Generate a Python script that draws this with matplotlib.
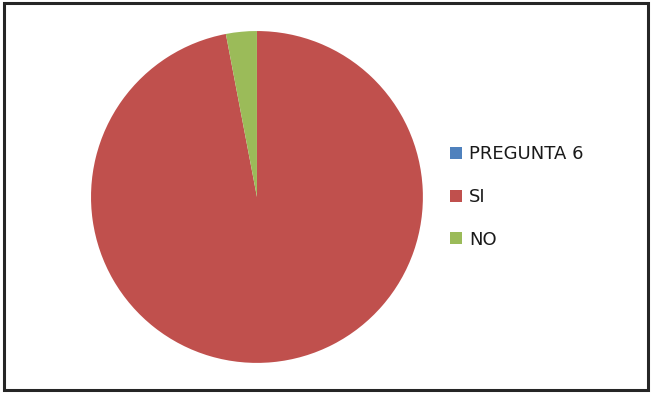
import matplotlib
matplotlib.use("Agg")
import matplotlib.pyplot as plt
from matplotlib.patches import Rectangle

# categories and values (PREGUNTA 6 is the empty series name slot)
labels = ["PREGUNTA 6", "SI", "NO"]
values = [0, 97, 3]
colors = ["#4F81BD", "#C0504D", "#9BBB59"]

plt.rcParams['font.family'] = ['DejaVu Sans']

fig = plt.figure(figsize=(6.52, 3.93), dpi=100)
fig.patch.set_facecolor("white")

# outer frame of the chart area
fig.patches.append(Rectangle((0.0065, 0.008), 0.988, 0.985, transform=fig.transFigure,
                             fill=False, edgecolor="#262626", linewidth=2.2))

# pie axes: centre around (257, 197) px, radius ~166 px
ax = fig.add_axes([0.1396, 0.0763, 0.509, 0.845])
wedges, _ = ax.pie(values, colors=colors, startangle=90, counterclock=False,
                   radius=1.0, wedgeprops=dict(linewidth=0))
ax.set_xlim(-1.0, 1.0)
ax.set_ylim(-1.0, 1.0)
ax.set_aspect("equal")
ax.axis("off")

leg = fig.legend(wedges, labels, loc="center left", bbox_to_anchor=(0.666, 0.499),
                 frameon=False, fontsize=13, handlelength=0.64, handleheight=0.64,
                 handletextpad=0.39, labelspacing=1.38, borderpad=0.4)
for t in leg.get_texts():
    t.set_color("#1a1a1a")

fig.savefig("out.png", dpi=100, facecolor="white")
